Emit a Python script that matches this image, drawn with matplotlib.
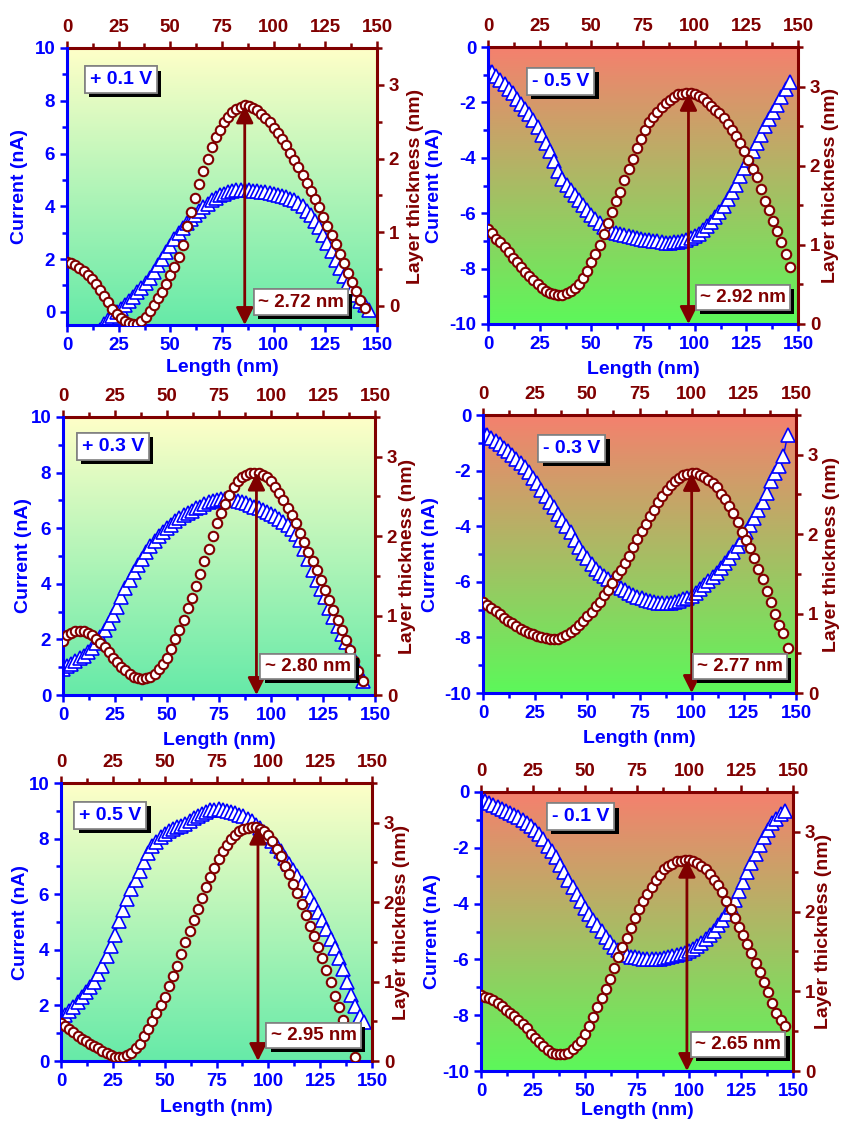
import numpy as np
import matplotlib
matplotlib.use("Agg")
import matplotlib.pyplot as plt
from matplotlib import patheffects
from matplotlib.colors import LinearSegmentedColormap
from matplotlib.ticker import MultipleLocator

plt.rcParams["font.family"] = ["Liberation Sans", "DejaVu Sans"]
plt.rcParams["font.weight"] = "bold"
plt.rcParams["axes.labelweight"] = "bold"
plt.rcParams["axes.unicode_minus"] = False

BLUE = "#0000FF"
DARK_RED = "#800000"
STEP_NM = 2.0  # sampling step along the scan line

# ---- current profiles (nA), one value every 2 nm starting at 0 nm ----
current_p01 = [-1.9, -1.85, -1.75, -1.6, -1.45, -1.3, -1.1, -0.9, -0.68, -0.48,
               -0.3, -0.15, -0.02, 0.12, 0.27, 0.42, 0.58, 0.75, 0.92, 1.1,
               1.3, 1.52, 1.76, 2.0, 2.25, 2.5, 2.75, 2.97, 3.17, 3.35,
               3.52, 3.68, 3.83, 3.97, 4.1, 4.22, 4.32, 4.41, 4.48, 4.54,
               4.58, 4.61, 4.62, 4.62, 4.61, 4.59, 4.57, 4.55, 4.53, 4.5,
               4.47, 4.44, 4.4, 4.35, 4.29, 4.22, 4.12, 4.0, 3.84, 3.66,
               3.45, 3.2, 2.92, 2.62, 2.3, 1.98, 1.65, 1.35, 1.08, 0.84,
               0.62, 0.42, 0.24, 0.06]
current_m05 = [-0.8, -0.92, -1.05, -1.2, -1.35, -1.5, -1.67, -1.86, -2.05, -2.24,
               -2.43, -2.65, -2.9, -3.17, -3.47, -3.77, -4.1, -4.47, -4.76, -4.97,
               -5.15, -5.33, -5.52, -5.72, -5.9, -6.05, -6.2, -6.35, -6.5, -6.6,
               -6.68, -6.72, -6.75, -6.78, -6.82, -6.85, -6.88, -6.92, -6.95, -6.98,
               -7.0, -7.02, -7.04, -7.06, -7.06, -7.05, -7.04, -7.0, -6.95, -6.9,
               -6.83, -6.74, -6.6, -6.45, -6.3, -6.12, -5.95, -5.73, -5.5, -5.24,
               -4.97, -4.67, -4.38, -4.07, -3.77, -3.47, -3.17, -2.87, -2.6, -2.35,
               -2.1, -1.8, -1.52, -1.25]
current_p03 = [0.95, 1.03, 1.12, 1.22, 1.32, 1.42, 1.55, 1.7, 1.88, 2.08,
               2.34, 2.58, 2.88, 3.15, 3.52, 3.85, 4.13, 4.42, 4.67, 4.9,
               5.15, 5.35, 5.55, 5.73, 5.88, 6.02, 6.13, 6.25, 6.36, 6.46,
               6.55, 6.63, 6.71, 6.78, 6.86, 6.93, 6.98, 7.02, 7.04, 7.05,
               7.04, 7.02, 6.99, 6.95, 6.9, 6.84, 6.78, 6.72, 6.66, 6.6,
               6.52, 6.44, 6.34, 6.24, 6.12, 5.98, 5.8, 5.56, 5.25, 4.88,
               4.5, 4.15, 3.82, 3.52, 3.12, 2.8, 2.5, 2.2, 1.9, 1.6,
               1.2, 0.9, 0.5]
current_m03 = [-0.62, -0.72, -0.83, -0.93, -1.04, -1.17, -1.3, -1.44, -1.58, -1.72,
               -1.88, -2.06, -2.26, -2.46, -2.68, -2.91, -3.12, -3.32, -3.55, -3.78,
               -4.01, -4.2, -4.48, -4.75, -4.96, -5.15, -5.36, -5.55, -5.69, -5.8,
               -5.9, -6.0, -6.1, -6.21, -6.31, -6.4, -6.48, -6.55, -6.6, -6.64,
               -6.68, -6.72, -6.75, -6.77, -6.77, -6.75, -6.72, -6.68, -6.63, -6.57,
               -6.5, -6.39, -6.27, -6.13, -5.98, -5.83, -5.69, -5.51, -5.32, -5.13,
               -4.93, -4.71, -4.45, -4.2, -3.96, -3.72, -3.42, -3.12, -2.79, -2.38,
               -2.08, -1.82, -1.46, -0.72]
current_p05 = [1.55, 1.66, 1.8, 1.95, 2.12, 2.3, 2.48, 2.65, 2.85, 3.12,
               3.42, 3.76, 4.12, 4.55, 5.02, 5.42, 5.82, 6.18, 6.5, 6.84,
               7.17, 7.48, 7.72, 7.89, 8.05, 8.16, 8.26, 8.33, 8.4, 8.46,
               8.54, 8.63, 8.73, 8.82, 8.9, 8.97, 9.02, 9.04, 9.05, 9.04,
               9.01, 8.97, 8.92, 8.86, 8.8, 8.72, 8.62, 8.5, 8.37, 8.24,
               8.1, 7.93, 7.74, 7.55, 7.32, 7.1, 6.88, 6.64, 6.39, 6.14,
               5.9, 5.65, 5.36, 5.06, 4.75, 4.4, 4.05, 3.72, 3.3, 2.85,
               2.36, 1.98, 1.62, 1.42]
current_m01 = [-0.25, -0.32, -0.39, -0.46, -0.53, -0.6, -0.68, -0.76, -0.83, -0.91,
               -1.0, -1.1, -1.22, -1.35, -1.5, -1.7, -1.92, -2.12, -2.34, -2.6,
               -2.85, -3.15, -3.42, -3.66, -3.9, -4.14, -4.36, -4.58, -4.78, -4.98,
               -5.18, -5.38, -5.54, -5.66, -5.78, -5.86, -5.9, -5.93, -5.95, -5.97,
               -5.99, -6.0, -5.99, -5.97, -5.94, -5.91, -5.88, -5.84, -5.8, -5.76,
               -5.71, -5.62, -5.52, -5.41, -5.28, -5.14, -4.98, -4.78, -4.58, -4.36,
               -4.12, -3.86, -3.55, -3.22, -2.88, -2.55, -2.22, -1.9, -1.6, -1.35,
               -1.12, -0.95, -0.8, -0.68]

# ---- layer thickness profiles (nm), same 2 nm sampling ----
thickness_p01 = [0.59, 0.58, 0.55, 0.51, 0.47, 0.42, 0.36, 0.3, 0.22, 0.14,
                 0.05, -0.04, -0.11, -0.17, -0.21, -0.23, -0.24, -0.24, -0.21, -0.15,
                 -0.07, 0.01, 0.1, 0.19, 0.3, 0.42, 0.53, 0.66, 0.83, 1.08,
                 1.28, 1.47, 1.65, 1.83, 2.0, 2.15, 2.29, 2.39, 2.49, 2.56,
                 2.63, 2.67, 2.7, 2.72, 2.71, 2.69, 2.66, 2.61, 2.55, 2.49,
                 2.42, 2.35, 2.26, 2.18, 2.08, 1.98, 1.88, 1.77, 1.67, 1.56,
                 1.45, 1.34, 1.2, 1.08, 0.96, 0.84, 0.71, 0.58, 0.45, 0.32,
                 0.2, 0.08, -0.03]
thickness_m05 = [1.2, 1.15, 1.08, 1.03, 0.97, 0.91, 0.84, 0.78, 0.72, 0.66,
                 0.61, 0.55, 0.5, 0.45, 0.42, 0.39, 0.38, 0.37, 0.37, 0.39,
                 0.42, 0.46, 0.51, 0.58, 0.67, 0.78, 0.89, 1.0, 1.14, 1.28,
                 1.42, 1.55, 1.67, 1.82, 1.96, 2.09, 2.22, 2.34, 2.45, 2.55,
                 2.62, 2.68, 2.74, 2.79, 2.83, 2.87, 2.9, 2.91, 2.92, 2.92,
                 2.91, 2.88, 2.85, 2.81, 2.76, 2.71, 2.66, 2.6, 2.53, 2.45,
                 2.37, 2.29, 2.18, 2.07, 1.96, 1.86, 1.71, 1.55, 1.44, 1.3,
                 1.17, 1.03, 0.88, 0.72]
thickness_p03 = [0.68, 0.75, 0.78, 0.8, 0.8, 0.8, 0.78, 0.75, 0.71, 0.66,
                 0.6, 0.54, 0.47, 0.41, 0.35, 0.31, 0.26, 0.23, 0.21, 0.2,
                 0.21, 0.23, 0.27, 0.33, 0.39, 0.47, 0.58, 0.71, 0.82, 0.95,
                 1.09, 1.22, 1.37, 1.52, 1.69, 1.84, 2.0, 2.16, 2.29, 2.41,
                 2.52, 2.62, 2.7, 2.74, 2.77, 2.79, 2.8, 2.79, 2.77, 2.74,
                 2.69, 2.62, 2.54, 2.46, 2.36, 2.27, 2.16, 2.04, 1.92, 1.8,
                 1.69, 1.57, 1.45, 1.32, 1.19, 1.07, 0.95, 0.82, 0.69, 0.57,
                 0.43, 0.3, 0.17]
thickness_m03 = [1.14, 1.11, 1.07, 1.03, 0.99, 0.95, 0.91, 0.88, 0.84, 0.81,
                 0.78, 0.76, 0.74, 0.72, 0.7, 0.69, 0.68, 0.68, 0.68, 0.7,
                 0.73, 0.77, 0.81, 0.85, 0.91, 0.97, 1.02, 1.09, 1.15, 1.23,
                 1.3, 1.39, 1.48, 1.55, 1.64, 1.73, 1.84, 1.94, 2.04, 2.13,
                 2.23, 2.31, 2.4, 2.48, 2.56, 2.62, 2.67, 2.71, 2.74, 2.76,
                 2.77, 2.77, 2.75, 2.72, 2.68, 2.64, 2.59, 2.51, 2.44, 2.35,
                 2.26, 2.15, 2.03, 1.93, 1.83, 1.7, 1.56, 1.43, 1.29, 1.14,
                 0.99, 0.85, 0.76, 0.57]
thickness_p05 = [0.48, 0.44, 0.4, 0.36, 0.32, 0.28, 0.25, 0.22, 0.19, 0.16,
                 0.13, 0.1, 0.07, 0.05, 0.05, 0.05, 0.07, 0.1, 0.16, 0.22,
                 0.31, 0.4, 0.5, 0.6, 0.7, 0.81, 0.94, 1.07, 1.19, 1.35,
                 1.5, 1.64, 1.78, 1.91, 2.05, 2.19, 2.32, 2.43, 2.54, 2.64,
                 2.72, 2.8, 2.85, 2.89, 2.92, 2.93, 2.94, 2.95, 2.92, 2.89,
                 2.84, 2.77, 2.67, 2.58, 2.46, 2.35, 2.23, 2.11, 1.98, 1.84,
                 1.7, 1.57, 1.44, 1.3, 1.15, 0.99, 0.82, 0.68, 0.52, 0.37,
                 0.22, 0.05]
thickness_m01 = [0.95, 0.93, 0.91, 0.89, 0.85, 0.81, 0.77, 0.73, 0.69, 0.64,
                 0.59, 0.54, 0.47, 0.41, 0.36, 0.31, 0.26, 0.23, 0.21, 0.21,
                 0.21, 0.23, 0.27, 0.32, 0.38, 0.46, 0.56, 0.68, 0.8, 0.92,
                 1.03, 1.16, 1.29, 1.43, 1.55, 1.67, 1.79, 1.92, 2.03, 2.13,
                 2.22, 2.31, 2.39, 2.46, 2.53, 2.57, 2.6, 2.63, 2.64, 2.65,
                 2.65, 2.63, 2.61, 2.57, 2.53, 2.47, 2.4, 2.33, 2.24, 2.13,
                 2.03, 1.92, 1.81, 1.7, 1.59, 1.48, 1.36, 1.24, 1.12, 0.99,
                 0.85, 0.73, 0.64, 0.57]

voltages = ["+ 0.1 V", "- 0.5 V", "+ 0.3 V", "- 0.3 V", "+ 0.5 V", "- 0.1 V"]
peak_thickness = [2.72, 2.92, 2.80, 2.77, 2.95, 2.65]
peak_length = [86, 97, 93, 100, 95, 99]
currents = [current_p01, current_m05, current_p03, current_m03, current_p05, current_m01]
thicknesses = [thickness_p01, thickness_m05, thickness_p03, thickness_m03,
               thickness_p05, thickness_m01]

W, H = 841, 1122
# axes boxes in pixels: left, right, top, bottom
boxes = [(67, 377, 48, 325), (488, 798, 47, 324),
         (63, 375, 417, 695), (483, 796, 415, 693),
         (61, 372, 783, 1061), (481, 793, 792, 1071)]
current_lims = [(-0.5, 10), (-10, 0), (0, 10), (-10, 0), (0, 10), (-10, 0)]
thick_lims = [(-0.26, 3.5), (0, 3.5), (0, 3.5), (0, 3.5), (0, 3.5), (0, 3.5)]
volt_pos = [(0.174, 0.885), (0.235, 0.875), (0.16, 0.894),
            (0.284, 0.88), (0.159, 0.883), (0.32, 0.911)]
value_pos = [(0.755, 0.083), (0.823, 0.097), (0.784, 0.103),
             (0.821, 0.095), (0.812, 0.092), (0.825, 0.095)]
# axis-label centres in axes fractions
left_label_x = [-0.152, -0.171, -0.128, -0.169, -0.129, -0.157]
right_label_x = [1.123, 1.105, 1.103, 1.114, 1.095, 1.097]
bottom_label_y = [-0.155, -0.166, -0.162, -0.162, -0.169, -0.14]

fwd_bg = LinearSegmentedColormap.from_list("fwd", ["#66EAA8", "#FFFFC8"])
rev_bg = LinearSegmentedColormap.from_list("rev", ["#5CF85A", "#F5806E"])
gradient = np.linspace(0, 1, 256).reshape(-1, 1)

shadow = [patheffects.withSimplePatchShadow(offset=(3, -3), shadow_rgbFace="black", alpha=1.0),
          patheffects.Normal()]


def style_ticks(axis, color):
    axis.tick_params(which="both", direction="out", colors=color, width=1.8,
                     labelsize=13.5)
    axis.tick_params(which="major", length=5)
    axis.tick_params(which="minor", length=3.5)


fig = plt.figure(figsize=(W / 100, H / 100), dpi=100)

for i in range(6):
    left, right, top, bottom = boxes[i]
    rect = [left / W, 1 - bottom / H, (right - left) / W, (bottom - top) / H]
    ax = fig.add_axes(rect)
    positive = voltages[i].startswith("+")

    ax.imshow(gradient, cmap=fwd_bg if positive else rev_bg, extent=[0, 1, 0, 1],
              transform=ax.transAxes, aspect="auto", origin="lower", zorder=0)

    cur = np.array(currents[i])
    ax.plot(np.arange(len(cur)) * STEP_NM, cur, color=BLUE, lw=1.0, marker="^",
            ms=9.5, mfc="white", mec=BLUE, mew=1.2, zorder=2)
    ax.set_xlim(0, 150)
    ax.set_ylim(*current_lims[i])
    ax.xaxis.set_major_locator(MultipleLocator(25))
    ax.xaxis.set_minor_locator(MultipleLocator(12.5))
    ax.yaxis.set_major_locator(MultipleLocator(2))
    ax.yaxis.set_minor_locator(MultipleLocator(1))
    style_ticks(ax, BLUE)
    for side in ("left", "bottom"):
        ax.spines[side].set_color(BLUE)
        ax.spines[side].set_linewidth(2.2)
    ax.spines["top"].set_visible(False)
    ax.spines["right"].set_visible(False)
    ax.set_xlabel("Length (nm)", color=BLUE, fontsize=14, va="center")
    ax.set_ylabel("Current (nA)", color=BLUE, fontsize=14, va="center")
    ax.xaxis.set_label_coords(0.5, bottom_label_y[i])
    ax.yaxis.set_label_coords(left_label_x[i], 0.5)

    top_ax = ax.secondary_xaxis("top")
    top_ax.xaxis.set_major_locator(MultipleLocator(25))
    top_ax.xaxis.set_minor_locator(MultipleLocator(12.5))
    style_ticks(top_ax, DARK_RED)
    top_ax.spines["top"].set_color(DARK_RED)
    top_ax.spines["top"].set_linewidth(2.2)

    ax_t = ax.twinx()
    th = np.array(thicknesses[i])
    ax_t.plot(np.arange(len(th)) * STEP_NM, th, ls="none", marker="o", ms=6.8,
              mfc="white", mec=DARK_RED, mew=1.5, zorder=3)
    ax_t.set_ylim(*thick_lims[i])
    ax_t.yaxis.set_major_locator(MultipleLocator(1))
    ax_t.yaxis.set_minor_locator(MultipleLocator(0.5))
    style_ticks(ax_t, DARK_RED)
    for side in ("left", "bottom", "top"):
        ax_t.spines[side].set_visible(False)
    ax_t.spines["right"].set_color(DARK_RED)
    ax_t.spines["right"].set_linewidth(2.2)
    ax_t.set_ylabel("Layer thickness (nm)", color=DARK_RED, fontsize=14, va="center")
    ax_t.yaxis.set_label_coords(right_label_x[i], 0.5)

    # thickness of the layer at its maximum
    ax_t.annotate("", xy=(peak_length[i], peak_thickness[i]),
                  xytext=(peak_length[i], thick_lims[i][0]),
                  arrowprops=dict(arrowstyle="<|-|>", color=DARK_RED, lw=2.0,
                                  mutation_scale=26, shrinkA=0, shrinkB=0),
                  zorder=5)

    vt = ax_t.text(*volt_pos[i], voltages[i], transform=ax_t.transAxes, ha="center",
                   va="center", color=BLUE, fontsize=14, zorder=10,
                   bbox=dict(boxstyle="square,pad=0.25", fc="white", ec="#808080", lw=1.2))
    vt.get_bbox_patch().set_path_effects(shadow)

    pt = ax_t.text(*value_pos[i], "~ %.2f nm" % peak_thickness[i], transform=ax_t.transAxes,
                   ha="center", va="center", color=DARK_RED, fontsize=13.5, zorder=10,
                   bbox=dict(boxstyle="square,pad=0.22", fc="white", ec="#808080", lw=1.2))
    pt.get_bbox_patch().set_path_effects(shadow)

fig.savefig("out.png", dpi=100)
